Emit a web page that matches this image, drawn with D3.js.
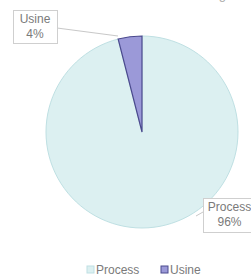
<!DOCTYPE html>
<html>
<head>
<meta charset="utf-8">
<script src="https://cdn.jsdelivr.net/npm/d3@7"></script>
<style>
  body { margin: 0; background: #fff; }
  svg { display: block; font-family: "Liberation Sans", Arial, sans-serif; }
</style>
</head>
<body>
<script>
const WIDTH = 251;
const HEIGHT = 277;

const categories = ["Process", "Usine"];
const values = [96, 4];
const labels = ["96%", "4%"];

const fills = ["#dcf0f1", "#9b99d8"];
const strokes = ["#bfe0e3", "#4b4a8e"];

const cx = 142, cy = 132, radius = 96;

const svg = d3.select("body").append("svg")
    .attr("width", WIDTH)
    .attr("height", HEIGHT);

// title sits above the crop, only a descender shows
svg.append("text")
    .attr("x", 236).attr("y", -1)
    .attr("text-anchor", "end")
    .attr("font-size", 13)
    .attr("fill", "#aaa")
    .text("Consommation énergie");

const pie = d3.pie().sort(null)(values);
const arc = d3.arc().innerRadius(0).outerRadius(radius);

const g = svg.append("g").attr("transform", "translate(" + cx + "," + cy + ")");
g.selectAll("path")
    .data(pie)
    .join("path")
    .attr("d", arc)
    .attr("fill", (d, i) => fills[i])
    .attr("stroke", (d, i) => strokes[i])
    .attr("stroke-width", (d, i) => i == 1 ? 1.2 : 1);

// data labels with leader lines
const labelPos = [
    { x: 203, y: 198, w: 53, h: 34, ax: 196, ay: 216, lx: 203, ly: 212 },
    { x: 13, y: 10, w: 44, h: 33, ax: 118, ay: 36, lx: 57, ly: 28 }
];

labelPos.forEach((p, i) => {
    svg.append("line")
        .attr("x1", p.lx).attr("y1", p.ly)
        .attr("x2", p.ax).attr("y2", p.ay)
        .attr("stroke", "#c8c8c8").attr("stroke-width", 1);
    svg.append("rect")
        .attr("x", p.x + 0.5).attr("y", p.y + 0.5)
        .attr("width", p.w).attr("height", p.h)
        .attr("fill", "#fff")
        .attr("stroke", "#cfcfcf");
    const t = svg.append("text")
        .attr("text-anchor", "middle")
        .attr("font-size", 12)
        .attr("fill", "#7a7a7a");
    t.append("tspan").attr("x", p.x + p.w / 2).attr("y", p.y + 13).text(categories[i]);
    t.append("tspan").attr("x", p.x + p.w / 2).attr("y", p.y + 28).text(labels[i]);
});

// legend
const legendX = [87, 161];
const legend = svg.append("g");
categories.forEach((c, i) => {
    legend.append("rect")
        .attr("x", legendX[i]).attr("y", 266)
        .attr("width", 7).attr("height", 7)
        .attr("fill", fills[i])
        .attr("stroke", strokes[i]);
    legend.append("text")
        .attr("x", legendX[i] + 9).attr("y", 274)
        .attr("font-size", 12)
        .attr("fill", "#7a7a7a")
        .text(c);
});
</script>
</body>
</html>
